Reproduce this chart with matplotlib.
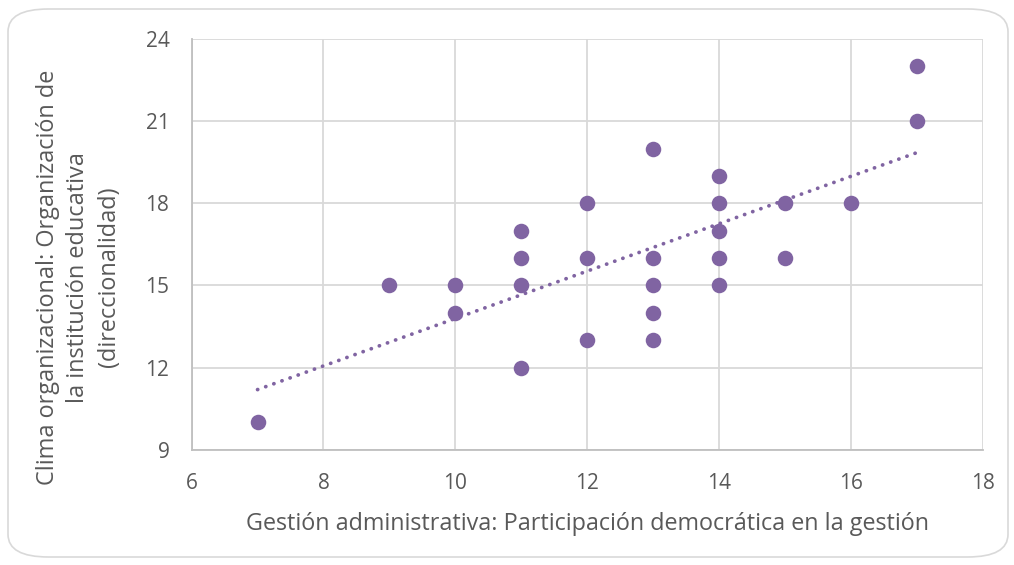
import numpy as np
import matplotlib
matplotlib.use("Agg")
import matplotlib.pyplot as plt
from matplotlib.patches import FancyBboxPatch

# datos
gestion = [7, 9, 10, 10, 11, 11, 11, 11, 12, 12, 12, 13, 13, 13, 13, 13,
           14, 14, 14, 14, 14, 15, 15, 16, 17, 17]
clima = [10, 15, 15, 14, 17, 16, 15, 12, 18, 16, 13, 20, 16, 15, 14, 13,
         19, 18, 17, 16, 15, 18, 16, 18, 23, 21]
x_ticks = [6, 8, 10, 12, 14, 16, 18]
y_ticks = [9, 12, 15, 18, 21, 24]

PURPLE = "#8064A2"
TXT = "#595959"
GRID = "#D9D9D9"
plt.rcParams["font.family"] = ["Open Sans", "DejaVu Sans"]

fig = plt.figure(figsize=(10.14, 5.65), dpi=100)
fig.patch.set_facecolor("white")
fig.patches.append(FancyBboxPatch((8 / 1014, 8 / 565), 1000 / 1014, 548 / 565,
                                  boxstyle="round,pad=0,rounding_size=0.04",
                                  transform=fig.transFigure, fc="none",
                                  ec=GRID, lw=1.2, zorder=-1))

ax = fig.add_axes([0.189, 0.204, 0.780, 0.727])
ax.set_facecolor("none")
ax.scatter(gestion, clima, s=125, color=PURPLE, zorder=3, linewidths=0)

# línea de tendencia
m, b = np.polyfit(gestion, clima, 1)
xt = np.array([min(gestion), max(gestion)])
ax.plot(xt, m * xt + b, color=PURPLE, lw=2.7, linestyle=(0, (0.05, 2.25)),
        dash_capstyle="round", zorder=2)

ax.set_xlim(6, 18)
ax.set_ylim(9, 24)
ax.set_xticks(x_ticks)
ax.set_yticks(y_ticks)
ax.grid(True, color=GRID, lw=1.3)
ax.set_axisbelow(True)
for s in ["top", "right"]:
    ax.spines[s].set_visible(False)
for s in ["left", "bottom"]:
    ax.spines[s].set_color("#BFBFBF")
    ax.spines[s].set_linewidth(1.3)
ax.tick_params(length=0, labelsize=15, labelcolor=TXT)
ax.tick_params(axis="x", pad=17)
ax.tick_params(axis="y", pad=16)

ax.set_xlabel("Gestión administrativa: Participación democrática en la gestión",
              fontsize=16.8, color=TXT, labelpad=13)
ax.set_ylabel("Clima organizacional: Organización de\nla institución educativa\n(direccionalidad)",
              fontsize=16.9, color=TXT, linespacing=1.38)
ax.yaxis.set_label_coords(-0.089, 0.42)

fig.savefig("out.png", dpi=100, facecolor="white")
